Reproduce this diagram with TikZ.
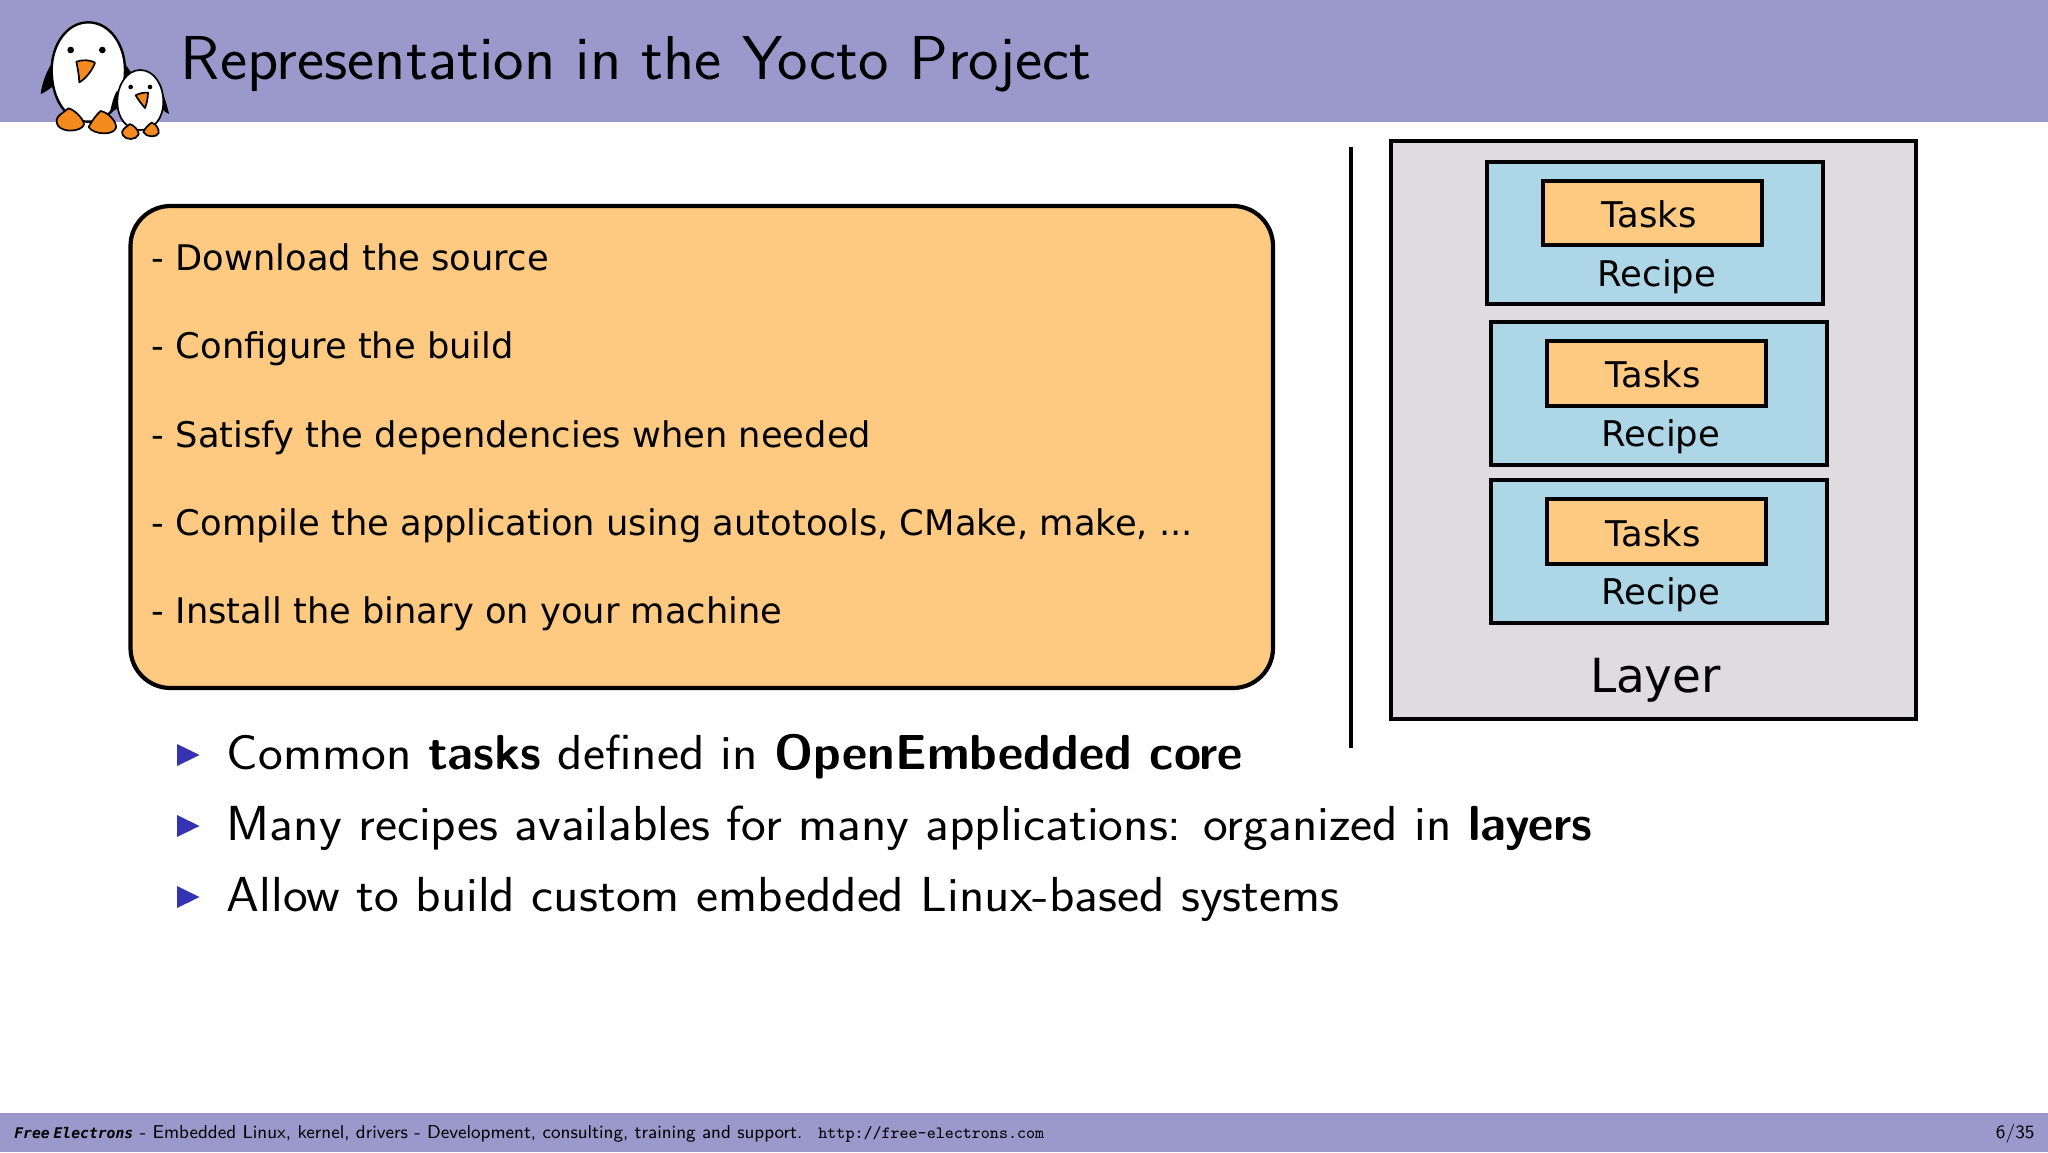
\documentclass[tikz,border=0pt]{standalone}
\usepackage{fontspec}
\newfontfamily\dejavu{DejaVu Sans}
\newfontfamily\femono{DejaVu Sans Mono}
\newfontfamily\itemfont[FakeStretch=1.068,BoldFeatures={FakeStretch=1.0}]{Latin Modern Sans}
\newfontfamily\titlefont[FakeStretch=1.0435]{Latin Modern Sans}
\definecolor{barblue}{HTML}{9B98CB}
\definecolor{boxorange}{HTML}{FECA82}
\definecolor{recipeblue}{HTML}{ADD6E7}
\definecolor{layergray}{HTML}{DEDCDF}
\definecolor{bulletblue}{HTML}{3333B3}
\definecolor{tuxorange}{HTML}{F58A1F}
\newcommand{\fsz}[1]{\fontsize{#1}{#1}\selectfont}
\tikzset{
  slab/.style={draw=black,line width=2.1pt,inner sep=0pt,outer sep=0pt,anchor=center},
  layerbox/.style={slab,fill=layergray},
  recipebox/.style={slab,fill=recipeblue,minimum width=168pt,minimum height=71.5pt},
  taskbox/.style={slab,fill=boxorange,minimum width=109.5pt,minimum height=32.5pt},
  boxlabel/.style={inner sep=0pt,anchor=base,font=\dejavu\fsz{17.7}},
  steptext/.style={inner sep=0pt,anchor=base west,font=\dejavu\fsz{17.64}},
  itemtext/.style={inner sep=0pt,anchor=base west,font=\itemfont\fsz{24.6}},
  foot/.style={inner sep=0pt,anchor=base west},
  ink/.style={draw=black,line width=0.85pt,line join=round},
  tri/.style={fill=bulletblue}
}
\begin{document}
\begin{tikzpicture}[x=0.5pt,y=-0.5pt]
\useasboundingbox (0,0) rectangle (2048,1152);
\fill[white] (0,0) rectangle (2048,1152);
\fill[barblue] (0,0) rectangle (2048,122);
\fill[barblue] (0,1113) rectangle (2048,1152);

% penguins
\begin{scope}[shift={(30,10)},x=0.16667pt,y=-0.16667pt]
  % big penguin
  \fill[black] (62,165) .. controls (45,195) and (35,225) .. (32,252) .. controls (45,248) and (60,235) .. (75,225) -- cycle;
  \fill[black] (280,155) .. controls (290,170) and (298,178) .. (305,190) -- (270,220) -- cycle;
  \draw[ink,fill=white,line width=1.2pt] (175,37) .. controls (110,37) and (65,105) .. (65,180)
     .. controls (65,270) and (110,335) .. (175,335)
     .. controls (240,335) and (285,270) .. (285,180)
     .. controls (285,105) and (240,37) .. (175,37) -- cycle;
  \fill[black] (122,120) circle[radius=10];
  \fill[black] (217,120) circle[radius=10];
  \draw[ink,fill=tuxorange] (139,155) .. controls (158,148) and (182,150) .. (195,158) .. controls (187,182) and (166,207) .. (148,217) .. controls (147,195) and (143,175) .. (139,155) -- cycle;
  \draw[ink,fill=tuxorange] (84,347) .. controls (68,320) and (100,310) .. (115,295) .. controls (132,298) and (160,325) .. (162,343) .. controls (157,364) and (100,370) .. (84,347) -- cycle;
  \draw[ink,fill=tuxorange] (176,351) .. controls (184,335) and (199,314) .. (212,303) .. controls (236,308) and (260,335) .. (258,353) .. controls (252,378) and (189,374) .. (176,351) -- cycle;
  % small penguin
  \fill[black] (262,240) .. controls (250,260) and (245,285) .. (240,306) .. controls (250,303) and (260,298) .. (270,290) -- cycle;
  \fill[black] (395,240) .. controls (405,265) and (412,290) .. (417,312) .. controls (408,308) and (398,300) .. (388,290) -- cycle;
  \draw[ink,fill=white] (331,180) .. controls (290,180) and (262,225) .. (262,275)
     .. controls (262,325) and (290,360) .. (331,360)
     .. controls (372,360) and (400,325) .. (400,275)
     .. controls (400,225) and (372,180) .. (331,180) -- cycle;
  \fill[black] (302,231) circle[radius=7];
  \fill[black] (360,231) circle[radius=7];
  \draw[ink,fill=tuxorange] (317,256) .. controls (330,249) and (344,247) .. (354,248) .. controls (354,265) and (350,281) .. (345,294) .. controls (335,283) and (324,268) .. (317,256) -- cycle;
  \draw[ink,fill=tuxorange] (279,376) .. controls (270,358) and (289,352) .. (300,342) .. controls (313,347) and (327,362) .. (326,373) .. controls (319,391) and (287,391) .. (279,376) -- cycle;
  \draw[ink,fill=tuxorange] (340,366) .. controls (345,355) and (355,344) .. (365,338) .. controls (379,342) and (388,358) .. (386,369) .. controls (381,383) and (349,383) .. (340,366) -- cycle;
\end{scope}

% title
\node[foot,font=\titlefont\fsz{31}] (title) at (180.5,79) {Representation in the Yocto Project};

% steps box
\node[slab,fill=boxorange,rounded corners=20pt,minimum width=571.25pt,minimum height=241pt] (steps) at (701.75,447) {};
\node[steptext] (s1) at (151.5,270.5) {- Download the source};
\node[steptext] (s2) at (151.5,358.5) {- Configure the build};
\node[steptext] (s3) at (151.5,447) {- Satisfy the dependencies when needed};
\node[steptext] (s4) at (151.5,535.5) {- Compile the application using autotools, CMake, make, ...};
\node[steptext] (s5) at (151.5,623.5) {- Install the binary on your machine};

% divider
\coordinate (divtop) at (1351,147);
\coordinate (divbot) at (1351,748);
\draw[black,line width=2.1pt] (divtop) -- (divbot);

% layer
\node[layerbox,minimum width=262.5pt,minimum height=289pt] (layer) at (1653.5,430) {};
\node[recipebox,minimum height=71pt] (r1) at (1655,233) {};
\node[taskbox,minimum height=32pt] (t1) at (1652.5,213) {};
\node[recipebox] (r2) at (1659,393.5) {};
\node[taskbox] (t2) at (1656.5,373.5) {};
\node[recipebox] (r3) at (1659,551.5) {};
\node[taskbox] (t3) at (1656.5,531.5) {};
\node[boxlabel] (tl1) at (1649,227) {Tasks};
\node[boxlabel] (rl1) at (1657,286) {Recipe};
\node[boxlabel] (tl2) at (1653,387.5) {Tasks};
\node[boxlabel] (rl2) at (1661,446) {Recipe};
\node[boxlabel] (tl3) at (1653,546) {Tasks};
\node[boxlabel] (rl3) at (1661,604) {Recipe};
\node[boxlabel,font=\dejavu\fsz{23.5}] (ll) at (1655.5,692) {Layer};

% items
\fill[tri] (177,744) -- (199.5,755) -- (177,766) -- cycle;
\fill[tri] (177,815) -- (199.5,826) -- (177,837) -- cycle;
\fill[tri] (177,886) -- (199.5,897) -- (177,908) -- cycle;
\node[itemtext] (i1) at (226.5,769) {Common \textbf{tasks} defined in \textbf{OpenEmbedded core}};
\node[itemtext] (i2) at (226.5,840) {Many recipes availables for many applications: organized in \textbf{layers}};
\node[itemtext] (i3) at (226.5,911) {Allow to build custom embedded Linux-based systems};

% footer
\node[foot,font=\femono\bfseries\itshape\fsz{7.35}] (fe) at (14,1138) {Free\hspace{-2.5pt}~Electrons};
\node[foot,font=\sffamily\fsz{9.28}] (ft) at (139.5,1138) {- Embedded Linux, kernel, drivers - Development, consulting, training and support.};
\node[foot,font=\ttfamily\fsz{8.6}] (url) at (818,1138) {http://free-electrons.com};
\node[inner sep=0pt,anchor=base east,font=\sffamily\fsz{9.4}] (pg) at (2035,1138) {6/35};
\end{tikzpicture}
\end{document}
